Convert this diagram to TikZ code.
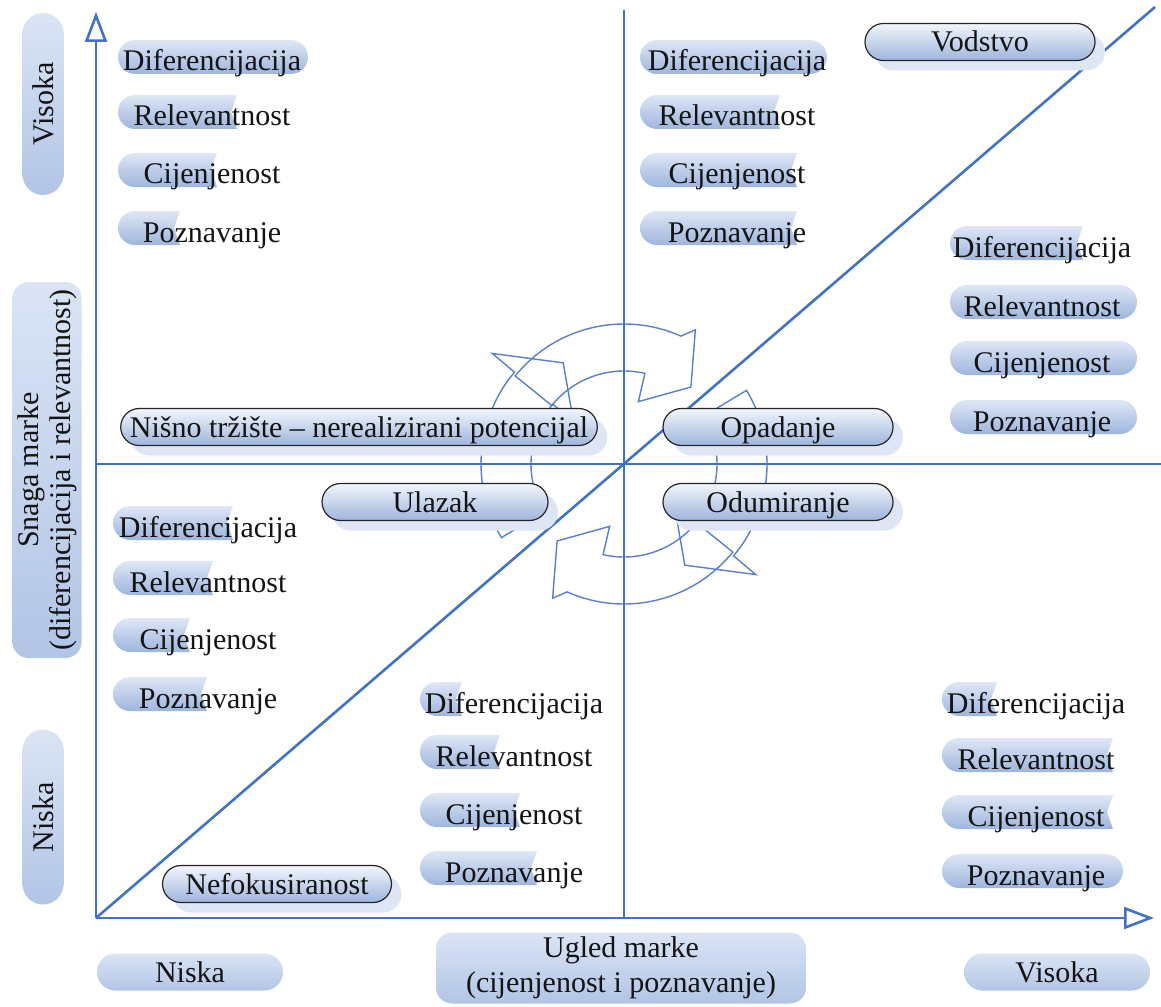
\documentclass[tikz,border=0pt]{standalone}
\usepackage{fontspec}
\setmainfont{Liberation Serif}
\usetikzlibrary{arrows.meta,shapes.misc,shadows}
\definecolor{axisc}{RGB}{66,114,196}
\definecolor{arrc}{RGB}{88,128,200}
\definecolor{barT}{RGB}{222,231,246}
\definecolor{barB}{RGB}{158,181,221}
\definecolor{lblT}{RGB}{242,246,252}
\definecolor{lblB}{RGB}{158,181,221}
\definecolor{axT}{RGB}{218,228,245}
\definecolor{axB}{RGB}{178,197,230}
\definecolor{shd}{RGB}{222,230,245}
\definecolor{txtc}{RGB}{20,20,20}
\newcommand\fbar[3]{\shade[bar] (#1+17,#3-17) -- (#2-17,#3-17) arc[start angle=-90,end angle=90,radius=17] -- (#1+17,#3+17) arc[start angle=90,end angle=270,radius=17] -- cycle;}
\newcommand\pbar[3]{\shade[bar] (#1+17,#3-17) -- (#2,#3-17) -- (#2-6,#3) -- (#2,#3+17) -- (#1+17,#3+17) arc[start angle=90,end angle=270,radius=17] -- cycle;}
\begin{document}
\begin{tikzpicture}[x=0.5pt,y=-0.5pt,
  txt/.style={font=\fontsize{15}{17}\selectfont, text=txtc, inner sep=0pt, anchor=base},
  bar/.style={top color=barT, bottom color=barB},
  lbl/.style={shape=rounded rectangle, draw=black!85, line width=0.6pt, top color=lblT, bottom color=lblB,
     minimum height=18.5pt, inner sep=0pt, text height=13pt, text depth=3pt,
     font=\fontsize{15}{17}\selectfont, text=txtc,
     general shadow={fill=shd, draw=none, shadow xshift=5pt, shadow yshift=-5pt}},
  axpill/.style={shape=rounded rectangle, draw=none, top color=axT, bottom color=axB, inner sep=0pt,
     text height=13pt, text depth=3pt, font=\fontsize{15}{17}\selectfont, text=txtc},
  axbox/.style={shape=rectangle, rounded corners=8pt, draw=none, top color=axT, bottom color=axB, inner sep=0pt,
     align=center, font=\fontsize{15}{16}\selectfont, text=txtc},
  axisln/.style={draw=axisc, line width=1.3pt},
  cyc/.style={draw=arrc, line width=0.7pt, line join=miter}
]
\useasboundingbox (0,0) rectangle (1161,1006);

% circular arrows
\begin{scope}[shift={(624,464)}, yscale=-1]
\draw[cyc] (141:140) arc[start angle=141, end angle=66, radius=140] -- (62:152) -- (49:102) -- (77:64) -- (77:93) arc[start angle=77, end angle=141, radius=93] -- cycle;
\draw[cyc] (-39:140) arc[start angle=-39, end angle=-114, radius=140] -- (-118:152) -- (-131:102) -- (-103:64) -- (-103:93) arc[start angle=-103, end angle=-39, radius=93] -- cycle;
\draw[cyc] (211:143) arc[start angle=211, end angle=140, radius=143] -- (140:172) -- (121:118) -- (140:66) -- (140:93) arc[start angle=140, end angle=211, radius=93] -- cycle;
\draw[cyc] (31:143) arc[start angle=31, end angle=-40, radius=143] -- (-40:172) -- (-59:118) -- (-40:66) -- (-40:93) arc[start angle=-40, end angle=31, radius=93] -- cycle;
\end{scope}

% axes and grid lines
\coordinate (O) at (96,918);
\coordinate (ytop) at (96,12);
\coordinate (xend) at (1154,918);
\coordinate (vtop) at (624,10);
\coordinate (vbot) at (624,918);
\coordinate (hl) at (96,464);
\coordinate (hr) at (1161,464);
\coordinate (dtop) at (1155,7);
\draw[axisln] (vtop) -- (vbot);
\draw[axisln] (hl) -- (hr);
\draw[axisln] (O) -- (dtop);
\draw[axisln, -{Triangle[open, length=15pt, width=11pt, fill=white]}] (O) -- (ytop);
\draw[axisln, -{Triangle[open, length=15pt, width=11pt, fill=white]}] (O) -- (xend);

% top-left group
\fbar{118}{308}{57} \pbar{118}{237}{112} \pbar{118}{217}{170} \pbar{118}{180}{228}
\node[txt] (tl1) at (212,71) {Diferencijacija};
\node[txt] (tl2) at (212,126) {Relevantnost};
\node[txt] (tl3) at (212,184) {Cijenjenost};
\node[txt] (tl4) at (212,242) {Poznavanje};

% top-right group
\fbar{640}{827}{57} \pbar{640}{780}{112} \pbar{640}{797}{170} \pbar{640}{797}{228}
\node[txt] (tr1) at (737,71) {Diferencijacija};
\node[txt] (tr2) at (737,126) {Relevantnost};
\node[txt] (tr3) at (737,184) {Cijenjenost};
\node[txt] (tr4) at (737,242) {Poznavanje};

% right-middle group
\pbar{950}{1083}{243} \fbar{950}{1137}{302} \fbar{950}{1137}{358} \fbar{950}{1137}{417}
\node[txt] (rm1) at (1042,257) {Diferencijacija};
\node[txt] (rm2) at (1042,316) {Relevantnost};
\node[txt] (rm3) at (1042,372) {Cijenjenost};
\node[txt] (rm4) at (1042,431) {Poznavanje};

% bottom-left group
\pbar{113}{233}{523} \pbar{113}{213}{578} \pbar{113}{190}{635} \pbar{113}{207}{694}
\node[txt] (bl1) at (208,537) {Diferencijacija};
\node[txt] (bl2) at (208,592) {Relevantnost};
\node[txt] (bl3) at (208,649) {Cijenjenost};
\node[txt] (bl4) at (208,708) {Poznavanje};

% bottom-middle group
\pbar{420}{462}{699} \pbar{420}{500}{752} \pbar{420}{520}{810} \pbar{420}{537}{868}
\node[txt] (bm1) at (514,713) {Diferencijacija};
\node[txt] (bm2) at (514,766) {Relevantnost};
\node[txt] (bm3) at (514,824) {Cijenjenost};
\node[txt] (bm4) at (514,882) {Poznavanje};

% bottom-right group
\pbar{942}{997}{699} \pbar{942}{1113}{755} \pbar{942}{1113}{812} \fbar{942}{1123}{871}
\node[txt] (br1) at (1036,713) {Diferencijacija};
\node[txt] (br2) at (1036,769) {Relevantnost};
\node[txt] (br3) at (1036,826) {Cijenjenost};
\node[txt] (br4) at (1036,885) {Poznavanje};

% stage labels
\node[lbl, minimum width=115pt] (vod) at (980,42) {Vodstvo};
\node[lbl, minimum width=234pt] (nis) at (359,427) {Nišno tržište – nerealizirani potencijal};
\node[lbl, minimum width=115pt] (opa) at (778,427) {Opadanje};
\node[lbl, minimum width=113pt] (ula) at (435,502) {Ulazak};
\node[lbl, minimum width=115pt] (odu) at (778,502) {Odumiranje};
\node[lbl, minimum width=114.5pt] (nef) at (277,884) {Nefokusiranost};

% axis labels
\node[axpill, rotate=90, minimum width=91pt, minimum height=20.5pt] (yhi) at (43,104) {Visoka};
\node[axbox, rotate=90, minimum width=188pt, minimum height=34.5pt] (ylab) at (47,470) {Snaga marke\\(diferencijacija i relevantnost)};
\node[axpill, rotate=90, minimum width=87.5pt, minimum height=20.5pt] (ylo) at (43,817) {Niska};
\node[axpill, minimum width=93pt, minimum height=18.5pt] (xlo) at (190,972) {Niska};
\node[axbox, minimum width=185pt, minimum height=35.5pt, font=\fontsize{15}{17.5}\selectfont] (xlab) at (621,968) {Ugled marke\\(cijenjenost i poznavanje)};
\node[axpill, minimum width=93pt, minimum height=18.5pt] (xhi) at (1057,972) {Visoka};
\end{tikzpicture}
\end{document}
